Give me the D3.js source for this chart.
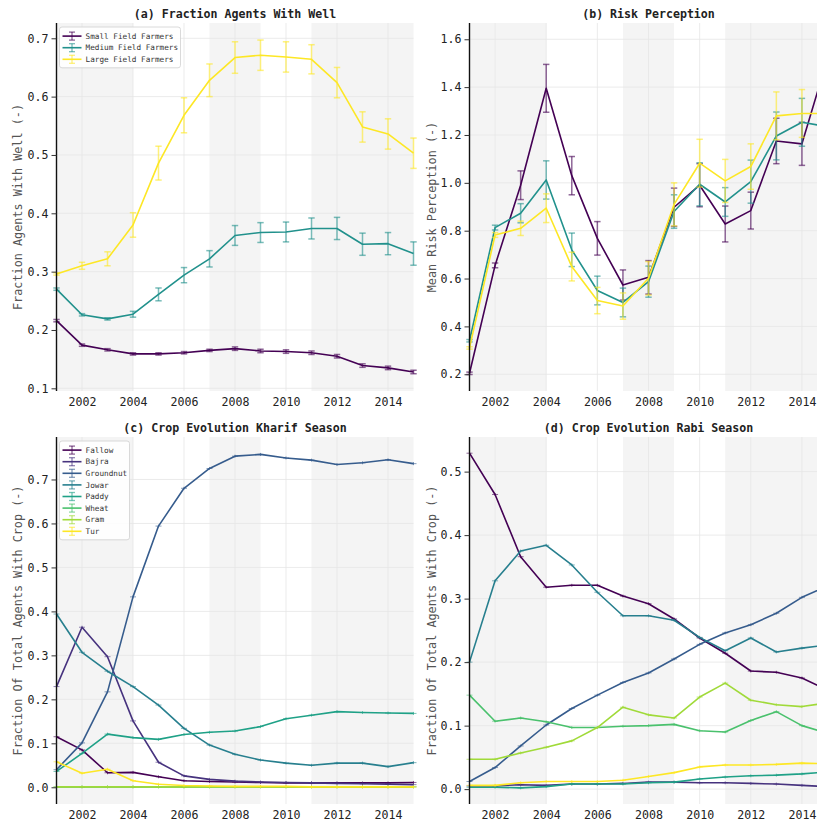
<!DOCTYPE html>
<html>
<head>
<meta charset="utf-8">
<script src="https://cdn.jsdelivr.net/npm/d3@7"></script>
<style>
html,body{margin:0;padding:0;background:#fff;overflow:hidden;}
svg{display:block;}
text{font-family:"DejaVu Sans Mono",monospace;}
</style>
</head>
<body>
<svg id="chart" width="817" height="821"></svg>
<script>
// ---------- data ----------
const years = [2001,2002,2003,2004,2005,2006,2007,2008,2009,2010,2011,2012,2013,2014,2015];
const xTicks = [2002,2004,2006,2008,2010,2012,2014];
const droughtStart = [2001,2007,2011];
const droughtEnd = [2004,2009,2015];

const farmerNames = ["Small Field Farmers","Medium Field Farmers","Large Field Farmers"];
const farmerColors = ["#440154","#21918c","#fde725"];

const wellSmall = [0.216,0.174,0.166,0.159,0.159,0.161,0.165,0.168,0.164,0.163,0.161,0.155,0.139,0.135,0.128];
const wellSmallErr = [0.002,0.002,0.002,0.002,0.002,0.002,0.002,0.003,0.003,0.003,0.003,0.003,0.003,0.003,0.003];
const wellMedium = [0.270,0.226,0.219,0.227,0.261,0.294,0.322,0.362,0.367,0.368,0.374,0.374,0.347,0.348,0.331];
const wellMediumErr = [0.002,0.002,0.002,0.005,0.011,0.013,0.014,0.017,0.017,0.017,0.018,0.019,0.019,0.019,0.020];
const wellLarge = [0.296,0.310,0.322,0.380,0.486,0.568,0.628,0.667,0.671,0.668,0.664,0.624,0.548,0.536,0.503];
const wellLargeErr = [0.002,0.006,0.012,0.021,0.029,0.030,0.028,0.027,0.026,0.026,0.025,0.026,0.026,0.026,0.026];

const riskSmall = [0.204,0.655,0.990,1.395,1.030,0.768,0.573,0.605,0.898,0.990,0.828,0.884,1.175,1.163,1.520];
const riskSmallErr = [0.005,0.010,0.060,0.100,0.080,0.070,0.063,0.070,0.080,0.090,0.075,0.077,0.095,0.090,0.100];
const riskMedium = [0.340,0.813,0.873,1.012,0.720,0.550,0.500,0.587,0.880,0.994,0.920,1.005,1.196,1.253,1.235];
const riskMediumErr = [0.005,0.010,0.040,0.080,0.070,0.060,0.060,0.065,0.070,0.090,0.060,0.090,0.100,0.100,0.100];
const riskLarge = [0.310,0.782,0.810,0.894,0.650,0.508,0.485,0.601,0.910,1.082,1.008,1.068,1.280,1.290,1.290];
const riskLargeErr = [0.005,0.010,0.030,0.060,0.060,0.055,0.055,0.070,0.090,0.100,0.090,0.095,0.100,0.100,0.100];

const cropNames = ["Fallow","Bajra","Groundnut","Jowar","Paddy","Wheat","Gram","Tur"];
const cropColors = ["#440154","#46327e","#365c8d","#277f8e","#1fa187","#4ac16d","#a0da39","#fde725"];

const kFallow = [0.115,0.085,0.033,0.034,0.024,0.015,0.013,0.012,0.011,0.010,0.010,0.010,0.010,0.010,0.011];
const kBajra = [0.229,0.364,0.297,0.151,0.057,0.026,0.018,0.014,0.012,0.011,0.010,0.009,0.008,0.007,0.006];
const kGroundnut = [0.040,0.101,0.217,0.433,0.594,0.680,0.725,0.753,0.757,0.749,0.744,0.734,0.738,0.745,0.736];
const kJowar = [0.394,0.307,0.264,0.229,0.187,0.134,0.096,0.075,0.062,0.055,0.050,0.055,0.055,0.047,0.056];
const kPaddy = [0.036,0.077,0.121,0.113,0.109,0.120,0.125,0.128,0.138,0.156,0.164,0.172,0.170,0.169,0.168];
const kWheat = [0.001,0.001,0.001,0.001,0.001,0.001,0.001,0.001,0.001,0.001,0.001,0.001,0.001,0.001,0.001];
const kGram = [0.001,0.001,0.001,0.001,0.001,0.001,0.001,0.001,0.001,0.001,0.001,0.001,0.001,0.001,0.001];
const kTur = [0.058,0.032,0.041,0.015,0.007,0.004,0.003,0.002,0.002,0.002,0.001,0.001,0.001,0.001,0.001];

const rFallow = [0.529,0.464,0.366,0.318,0.321,0.321,0.304,0.292,0.268,0.238,0.214,0.186,0.184,0.175,0.156];
const rBajra = [0.005,0.005,0.007,0.006,0.008,0.008,0.009,0.011,0.011,0.010,0.010,0.009,0.008,0.006,0.004];
const rGroundnut = [0.012,0.034,0.068,0.101,0.127,0.148,0.168,0.183,0.205,0.228,0.246,0.259,0.277,0.302,0.320];
const rJowar = [0.200,0.328,0.375,0.384,0.353,0.310,0.273,0.273,0.266,0.239,0.218,0.238,0.216,0.222,0.227];
const rPaddy = [0.003,0.003,0.002,0.004,0.008,0.008,0.008,0.010,0.011,0.016,0.019,0.021,0.022,0.024,0.027];
const rWheat = [0.148,0.107,0.112,0.106,0.097,0.097,0.099,0.100,0.102,0.092,0.090,0.108,0.122,0.100,0.088];
const rGram = [0.047,0.047,0.057,0.066,0.076,0.097,0.129,0.117,0.112,0.145,0.167,0.140,0.133,0.130,0.136];
const rTur = [0.006,0.006,0.010,0.012,0.012,0.012,0.014,0.020,0.026,0.035,0.038,0.038,0.039,0.041,0.040];

const wellTicks = [0.1,0.2,0.3,0.4,0.5,0.6,0.7];
const riskTicks = [0.2,0.4,0.6,0.8,1.0,1.2,1.4,1.6];
const kharifTicks = [0.0,0.1,0.2,0.3,0.4,0.5,0.6,0.7];
const rabiTicks = [0.0,0.1,0.2,0.3,0.4,0.5];

// ---------- drawing ----------
const svg = d3.select("#chart");

function panel(cfg){
  const g = svg.append("g");
  const x = d3.scaleLinear().domain([2001,2015]).range([cfg.left, cfg.right]);
  const y = d3.scaleLinear().domain(cfg.yDomain).range([cfg.bottom, cfg.top]);
  const W = cfg.right - cfg.left;

  // drought shading
  g.selectAll("rect.shade").data(droughtStart).enter().append("rect")
    .attr("x", (d)=>x(d)).attr("y", cfg.top)
    .attr("width", (d,i)=>x(droughtEnd[i]) - x(d))
    .attr("height", cfg.bottom - cfg.top)
    .attr("fill", "#f4f4f4");

  // grid
  g.selectAll("line.hg").data(cfg.yTicks).enter().append("line")
    .attr("x1", cfg.left).attr("x2", cfg.right)
    .attr("y1", (d)=>y(d)).attr("y2", (d)=>y(d))
    .attr("stroke", "#e6e6e6").attr("stroke-width", 0.8);
  g.selectAll("line.vg").data(xTicks).enter().append("line")
    .attr("x1", (d)=>x(d)).attr("x2", (d)=>x(d))
    .attr("y1", cfg.top).attr("y2", cfg.bottom)
    .attr("stroke", "#e6e6e6").attr("stroke-width", 0.8);

  // series
  const line = d3.line().x((d,i)=>x(years[i])).y((d)=>y(d));
  cfg.series.forEach((s)=>{
    g.append("path").datum(s.values)
      .attr("d", line).attr("fill","none")
      .attr("stroke", s.color).attr("stroke-width", 1.6)
      .attr("stroke-linejoin","round");
    const eb = g.append("g").attr("stroke", s.color).attr("stroke-opacity", 0.6).attr("stroke-width", 1.5);
    s.values.forEach((v,i)=>{
      const e = s.err ? s.err[i] : 0;
      const cx = x(years[i]);
      if (e > 0){
        eb.append("line").attr("x1",cx).attr("x2",cx).attr("y1",y(v-e)).attr("y2",y(v+e));
        eb.append("line").attr("x1",cx-3.2).attr("x2",cx+3.2).attr("y1",y(v-e)).attr("y2",y(v-e));
        eb.append("line").attr("x1",cx-3.2).attr("x2",cx+3.2).attr("y1",y(v+e)).attr("y2",y(v+e));
      } else {
        eb.append("line").attr("x1",cx-3).attr("x2",cx+3).attr("y1",y(v)).attr("y2",y(v)).attr("stroke-width",1);
        eb.append("line").attr("x1",cx).attr("x2",cx).attr("y1",y(v)-1.5).attr("y2",y(v)+1.5).attr("stroke-width",1);
      }
    });
  });

  // y axis
  const ya = g.append("g").attr("transform", `translate(${cfg.left},0)`)
    .call(d3.axisLeft(y).tickValues(cfg.yTicks).tickFormat(d3.format(".1f")).tickSize(5).tickPadding(3));
  ya.select(".domain").attr("stroke","#111").attr("stroke-width",1.4)
    .attr("d", `M0,${cfg.top}V${cfg.bottom}`);
  ya.selectAll(".tick line").attr("stroke","#333").attr("stroke-width",1);
  ya.selectAll(".tick text").attr("font-family","DejaVu Sans Mono").attr("font-size","11.6px").attr("fill","#222");

  // x axis
  const xa = g.append("g").attr("transform", `translate(0,${cfg.bottom})`)
    .call(d3.axisBottom(x).tickValues(xTicks).tickFormat(d3.format("d")).tickSize(0).tickPadding(7));
  xa.select(".domain").remove();
  xa.selectAll(".tick text").attr("font-family","DejaVu Sans Mono").attr("font-size","11.6px").attr("fill","#222");

  // title
  g.append("text").attr("x", (cfg.left + cfg.right)/2).attr("y", cfg.top - 5)
    .attr("text-anchor","middle").attr("font-weight","bold").attr("font-size","11.6px").attr("fill","#222")
    .text(cfg.title);
  // y label
  g.append("text").attr("transform", `translate(${cfg.labelX},${(cfg.top+cfg.bottom)/2}) rotate(-90)`)
    .attr("text-anchor","middle").attr("font-size","11.8px").attr("fill","#555")
    .text(cfg.ylabel);

  // legend
  if (cfg.legend){
    const lg = g.append("g").attr("transform", `translate(${cfg.left+3},${cfg.top+4})`);
    const rowH = 11.6;
    const n = cfg.series.length;
    lg.append("rect").attr("x",0).attr("y",0).attr("width",cfg.legendW).attr("height", n*rowH + 6)
      .attr("rx",2.5).attr("fill","#fff").attr("fill-opacity",0.85).attr("stroke","#d0d0d0").attr("stroke-width",0.8);
    cfg.series.forEach((s,i)=>{
      const cy = 3 + rowH*i + rowH/2 + 0.3;
      lg.append("line").attr("x1",3).attr("x2",22).attr("y1",cy).attr("y2",cy).attr("stroke",s.color).attr("stroke-width",1.6);
      const h = lg.append("g").attr("stroke",s.color).attr("stroke-opacity",0.6).attr("stroke-width",1.3);
      h.append("line").attr("x1",12.5).attr("x2",12.5).attr("y1",cy-4).attr("y2",cy+4);
      h.append("line").attr("x1",9.5).attr("x2",15.5).attr("y1",cy-4).attr("y2",cy-4);
      h.append("line").attr("x1",9.5).attr("x2",15.5).attr("y1",cy+4).attr("y2",cy+4);
      lg.append("text").attr("x",26).attr("y",cy).attr("dy","0.35em")
        .attr("font-size","7.7px").attr("fill","#333").text(s.name);
    });
  }
}

const farmerSeries = (vals, errs) => vals.map((v,i)=>({name: farmerNames[i], color: farmerColors[i], values: v, err: errs[i]}));
const cropSeries = (vals) => vals.map((v,i)=>({name: cropNames[i], color: cropColors[i], values: v, err: null}));

panel({left:56.5, right:413.5, top:23, bottom:391, yDomain:[0.0954,0.7262], yTicks:wellTicks,
  title:"(a) Fraction Agents With Well", ylabel:"Fraction Agents With Well (-)", labelX:22,
  series: farmerSeries([wellSmall,wellMedium,wellLarge],[wellSmallErr,wellMediumErr,wellLargeErr]),
  legend:true, legendW:121});

panel({left:469.5, right:827.5, top:23, bottom:391, yDomain:[0.130,1.668], yTicks:riskTicks,
  title:"(b) Risk Perception", ylabel:"Mean Risk Perception (-)", labelX:436,
  series: farmerSeries([riskSmall,riskMedium,riskLarge],[riskSmallErr,riskMediumErr,riskLargeErr]),
  legend:false});

panel({left:56.5, right:413.5, top:437, bottom:804, yDomain:[-0.038,0.7966], yTicks:kharifTicks,
  title:"(c) Crop Evolution Kharif Season", ylabel:"Fraction Of Total Agents With Crop (-)", labelX:22,
  series: cropSeries([kFallow,kBajra,kGroundnut,kJowar,kPaddy,kWheat,kGram,kTur]),
  legend:true, legendW:70});

panel({left:469.5, right:827.5, top:437, bottom:804, yDomain:[-0.0234,0.5545], yTicks:rabiTicks,
  title:"(d) Crop Evolution Rabi Season", ylabel:"Fraction Of Total Agents With Crop (-)", labelX:436,
  series: cropSeries([rFallow,rBajra,rGroundnut,rJowar,rPaddy,rWheat,rGram,rTur]),
  legend:false});
</script>
</body>
</html>
